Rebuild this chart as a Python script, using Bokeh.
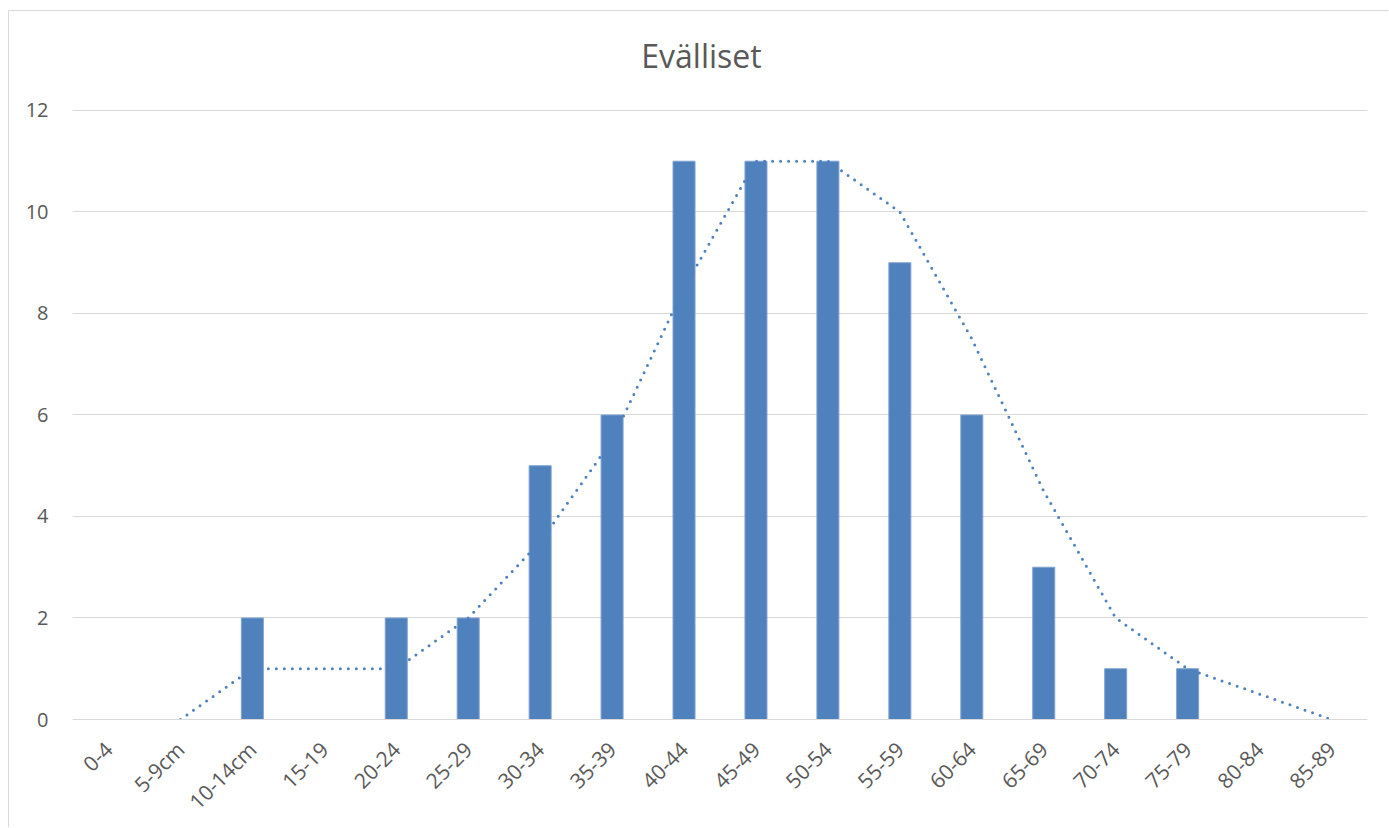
import math
from bokeh.plotting import figure
from bokeh.models import Label, FixedTicker, Range1d
from bokeh.embed import file_html
from bokeh.resources import INLINE

categories = ["0-4", "5-9cm", "10-14cm", "15-19", "20-24", "25-29", "30-34", "35-39",
              "40-44", "45-49", "50-54", "55-59", "60-64", "65-69", "70-74", "75-79",
              "80-84", "85-89"]
counts = [0, 0, 2, 0, 2, 2, 5, 6, 11, 11, 11, 9, 6, 3, 1, 1, 0, 0]
trend_categories = categories[1:]
trend_values = [0, 1, 1, 1, 2, 3.5, 5.5, 8.5, 11, 11, 10, 7.5, 4.5, 2, 1, 0.5, 0]
y_ticks = [0, 2, 4, 6, 8, 10, 12]
title_text = "Evälliset"

FONT = "Open Sans"
TXT = "#595959"
BLUE = "#4f81bd"

# y range extends above the top tick to leave room for the title inside the frame
p = figure(x_range=categories, y_range=Range1d(0, 13.773), width=1380, height=817,
           output_backend="svg", toolbar_location=None,
           min_border_left=63, min_border_right=22, min_border_top=9, min_border_bottom=109)
p.styles = {"border-left": "1px solid #d9d9d9", "border-top": "1px solid #d9d9d9",
            "margin-top": "10px", "margin-left": "8px"}
p.outline_line_color = None
p.border_fill_color = "white"
p.background_fill_color = "white"

p.vbar(x=categories, top=counts, width=0.306, fill_color=BLUE,
       line_color="#7fa3d0", line_width=1)
p.line(x=trend_categories, y=trend_values, line_color=BLUE, line_width=3,
       line_dash="0 8", line_cap="round")

p.xgrid.grid_line_color = None
p.ygrid.grid_line_color = "#d9d9d9"
p.ygrid.grid_line_width = 1

p.yaxis.ticker = FixedTicker(ticks=y_ticks)
p.yaxis.axis_line_color = None
p.yaxis.major_tick_line_color = None
p.yaxis.minor_tick_line_color = None
p.yaxis.major_label_standoff = 18
p.yaxis.major_label_text_font = FONT
p.yaxis.major_label_text_font_size = "20px"
p.yaxis.major_label_text_color = TXT

p.xaxis.axis_line_color = "#d9d9d9"
p.xaxis.axis_line_width = 1
p.xaxis.major_tick_line_color = None
p.xaxis.minor_tick_line_color = None
p.xaxis.major_label_orientation = math.pi / 4
p.xaxis.major_label_standoff = 20
p.xaxis.major_label_text_font = FONT
p.xaxis.major_label_text_font_size = "21px"
p.xaxis.major_label_text_color = TXT

p.add_layout(Label(x=8.743, y=13.084, text=title_text, text_font=FONT,
                   text_font_size="32px", text_color=TXT, text_align="center",
                   text_baseline="middle"))

open("out.html", "w").write(file_html(p, INLINE))
